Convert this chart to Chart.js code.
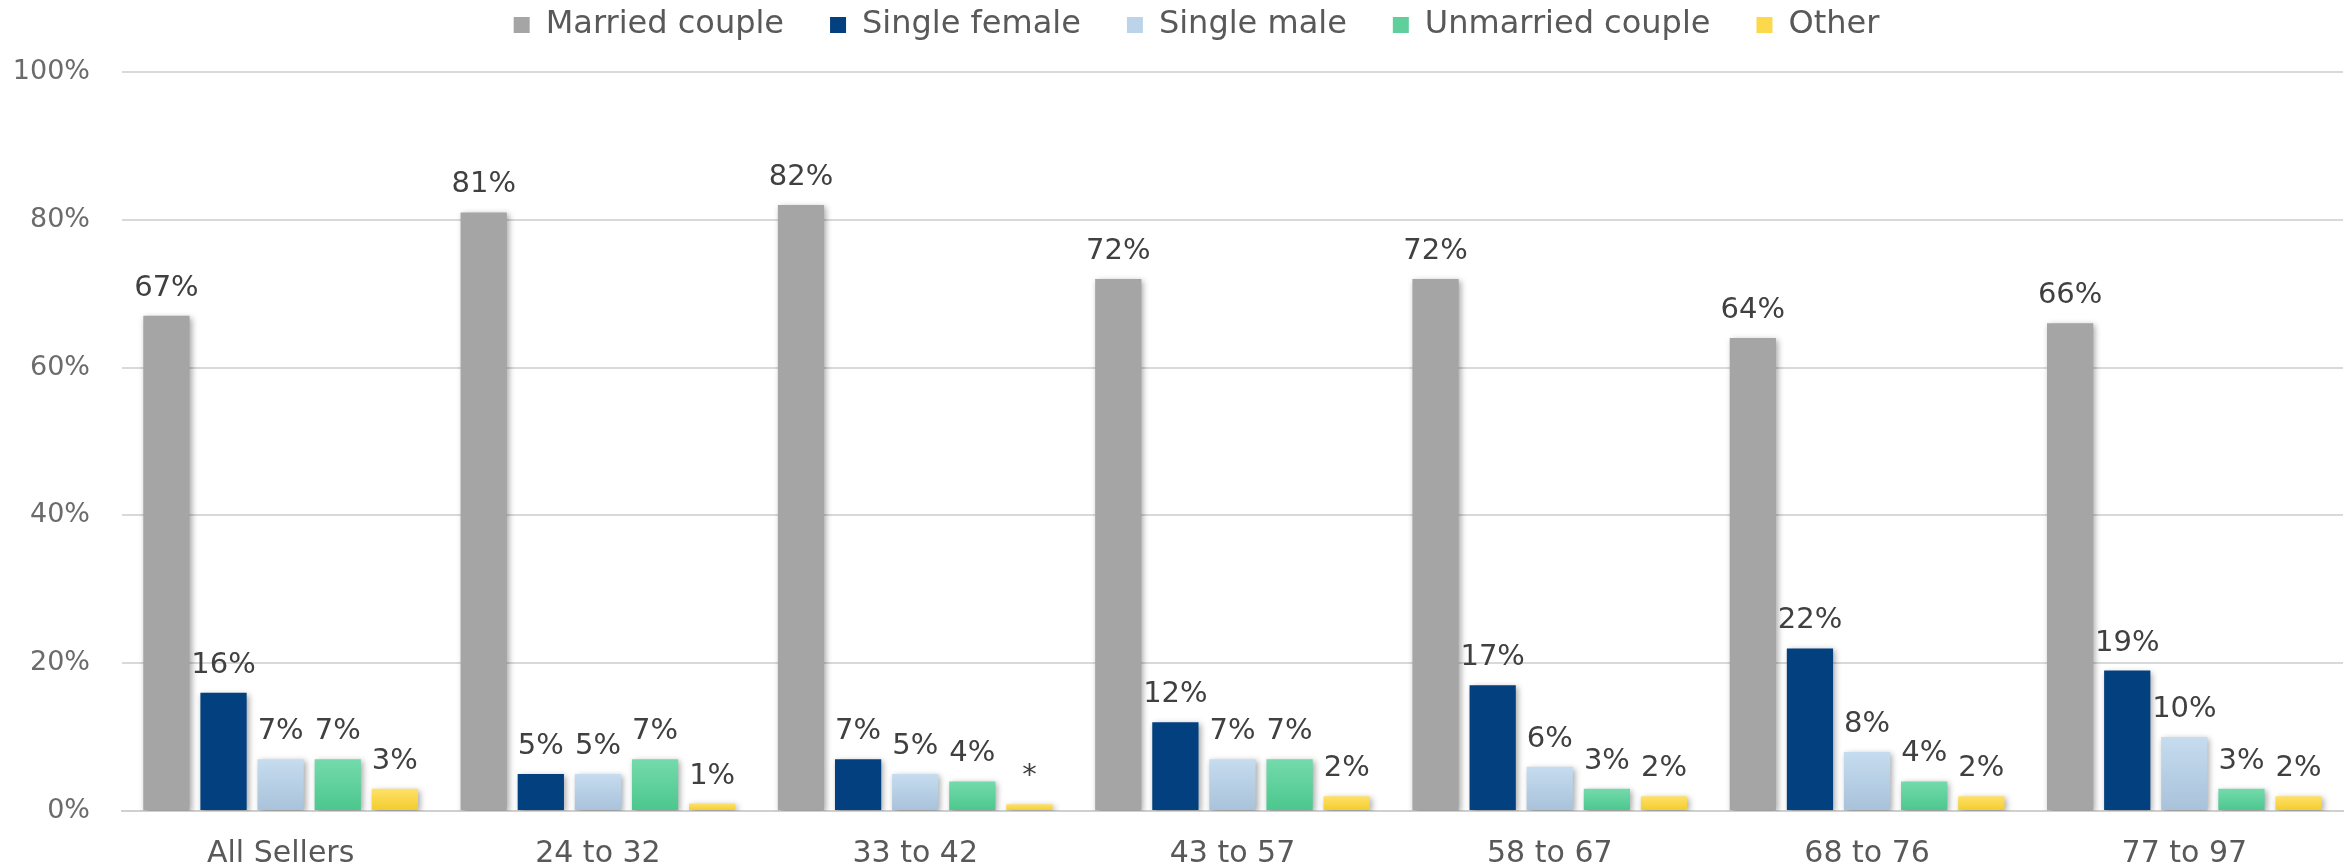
<!DOCTYPE html>
<html>
<head>
<meta charset="utf-8">
<script src="https://cdn.jsdelivr.net/npm/chart.js@4/dist/chart.umd.min.js"></script>
<style>
  html, body { margin: 0; padding: 0; background: #fff; }
  #wrap { width: 2351px; height: 868px; }
</style>
</head>
<body>
<div id="wrap"><canvas id="sellers" width="2351" height="868"></canvas></div>
<script>
// Household composition of sellers by age group
const categories = ['All Sellers', '24 to 32', '33 to 42', '43 to 57', '58 to 67', '68 to 76', '77 to 97'];
const married      = [67, 81, 82, 72, 72, 64, 66];
const singleFemale = [16, 5, 7, 12, 17, 22, 19];
const singleMale   = [7, 5, 5, 7, 6, 8, 10];
const unmarried    = [7, 7, 4, 7, 3, 4, 3];
const other        = [3, 1, 0.9, 2, 2, 2, 2];   // 33 to 42: under 1%, shown as *
const yTickLabels  = ['0%', '20%', '40%', '60%', '80%', '100%'];

const FONT = 'DejaVu Sans';
const LEGEND_GAP = 46;   // horizontal space between legend items

// vertical gradient from the bar's top down to the baseline
function barGradient(top, bottom) {
  return (ctx) => {
    const chart = ctx.chart;
    if (!chart.chartArea || ctx.type !== 'data') return bottom;
    const y = chart.scales.y;
    const y0 = y.getPixelForValue(ctx.raw);
    const y1 = y.getPixelForValue(0);
    if (y1 - y0 < 1) return bottom;
    const g = chart.ctx.createLinearGradient(0, y0, 0, y1);
    g.addColorStop(0, top);
    g.addColorStop(1, bottom);
    return g;
  };
}

// soft drop shadow under every bar
const barShadow = {
  id: 'barShadow',
  beforeDatasetsDraw(chart) {
    const c = chart.ctx;
    c.save();
    c.shadowColor = 'rgba(0,0,0,0.35)';
    c.shadowBlur = 6;
    c.shadowOffsetX = 2;
    c.shadowOffsetY = 2;
  },
  afterDatasetsDraw(chart) {
    chart.ctx.restore();
  }
};

// value labels above the bars
const valueLabels = {
  id: 'valueLabels',
  afterDatasetsDraw(chart) {
    const c = chart.ctx;
    c.save();
    c.font = '29px "' + FONT + '"';
    c.fillStyle = '#404040';
    c.textAlign = 'center';
    c.textBaseline = 'alphabetic';
    chart.data.datasets.forEach((ds, i) => {
      const meta = chart.getDatasetMeta(i);
      meta.data.forEach((bar, j) => {
        const v = ds.data[j];
        const txt = v < 1 ? '*' : v + '%';
        c.fillText(txt, bar.x, bar.y - 20);
      });
    });
    c.restore();
  }
};

// the wide item gap also pads the legend vertically; take that back out
// and nudge the row a little to the right
const extra = LEGEND_GAP - 12;
const legendSpacing = {
  id: 'legendSpacing',
  beforeInit(chart) {
    const fit = chart.legend.fit;
    chart.legend.fit = function () {
      fit.call(this);
      this.height += 18 - extra;
    };
  },
  afterLayout(chart) {
    chart.legend.left += 50;
    chart.legend.top -= 3 + extra;
  }
};

new Chart(document.getElementById('sellers'), {
  type: 'bar',
  data: {
    labels: categories,
    datasets: [
      { label: 'Married couple', data: married, backgroundColor: '#a5a5a5' },
      { label: 'Single female', data: singleFemale, backgroundColor: '#02407f' },
      { label: 'Single male', data: singleMale, backgroundColor: barGradient('#c6dcef', '#a8c2da') },
      { label: 'Unmarried couple', data: unmarried, backgroundColor: barGradient('#74daab', '#4bc78d') },
      { label: 'Other', data: other, backgroundColor: barGradient('#ffe167', '#f1cc2c') }
    ]
  },
  options: {
    responsive: false,
    animation: false,
    devicePixelRatio: 1,
    categoryPercentage: 0.9,
    barPercentage: 0.81,
    layout: { padding: { top: 0, right: 8, bottom: 0, left: 0 } },
    plugins: {
      tooltip: { enabled: false },
      legend: {
        position: 'top',
        labels: {
          font: { family: FONT, size: 32 },
          color: '#595959',
          boxWidth: 16,
          boxHeight: 16,
          padding: LEGEND_GAP,
          generateLabels(chart) {
            const solid = ['#a5a5a5', '#02407f', '#bcd4ea', '#5fd09c', '#fbd94a'];
            return chart.data.datasets.map((ds, i) => ({
              text: ds.label,
              fillStyle: solid[i],
              strokeStyle: solid[i],
              fontColor: '#595959',
              lineWidth: 0,
              datasetIndex: i
            }));
          }
        }
      }
    },
    scales: {
      x: {
        grid: { display: false, drawTicks: false },
        border: { color: '#d0d0d0', width: 2 },
        ticks: {
          font: { family: FONT, size: 30 },
          color: '#595959',
          padding: 25
        },
        afterFit(scale) { scale.height = 57; }
      },
      y: {
        min: 0,
        max: 100,
        ticks: {
          stepSize: 20,
          font: { family: FONT, size: 27 },
          color: '#6b6b6b',
          padding: 32,
          callback: (v) => yTickLabels[v / 20]
        },
        grid: { color: '#d9d9d9', lineWidth: 2, drawTicks: false },
        border: { display: false },
        afterFit(scale) { scale.width = 122; }
      }
    }
  },
  plugins: [barShadow, valueLabels, legendSpacing]
});
</script>
</body>
</html>
